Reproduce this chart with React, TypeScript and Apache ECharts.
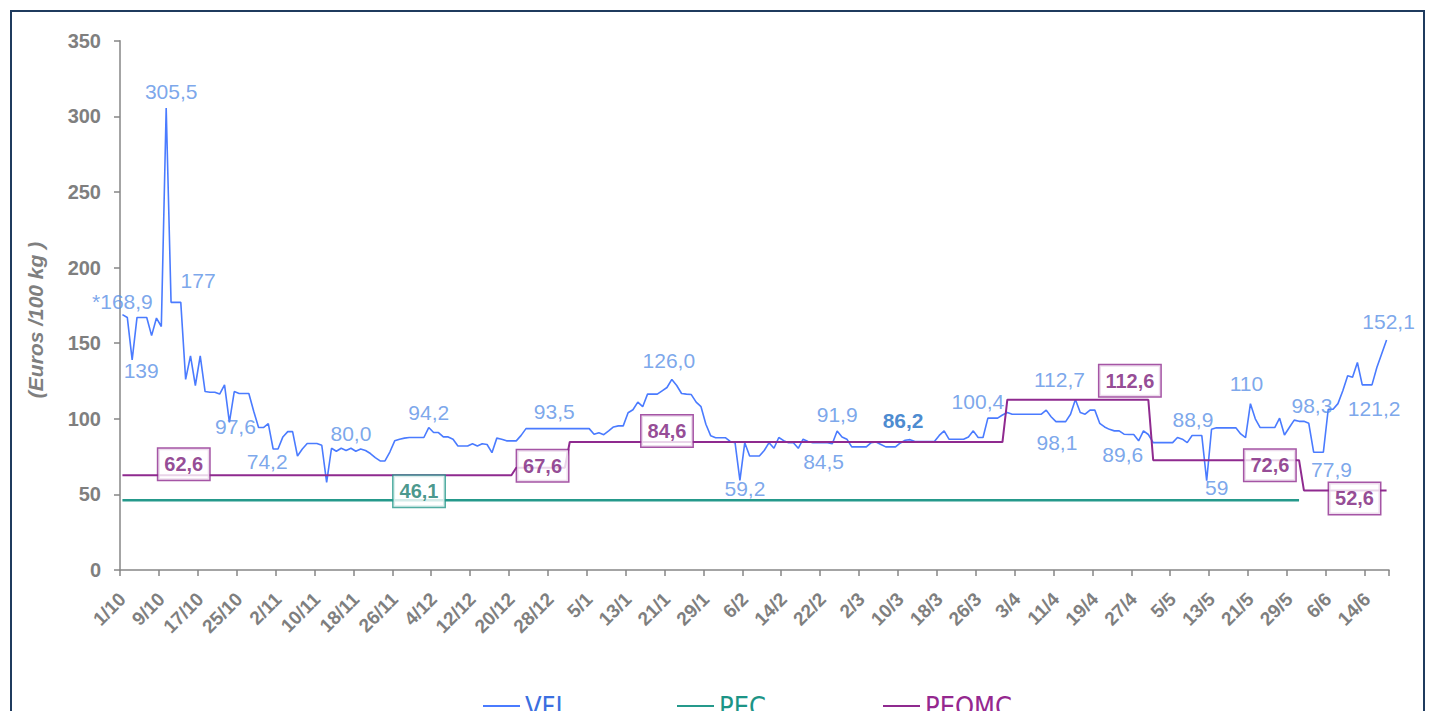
import React, { useEffect, useRef } from "react";
import * as echarts from "echarts";

// ---------- data ----------
const MONTH_NUMBERS = [10, 11, 12, 1, 2, 3, 4, 5, 6];
const MONTH_LENGTHS = [31, 30, 31, 31, 28, 31, 30, 31, 30];
const DAY_COUNT = 261; // 1/10 .. 18/6

const vfi = [
  168.9, 167, 139, 167, 167, 167, 155, 166.6, 161, 305.5,
  177, 177, 177, 126, 141.6, 122, 141.6, 118, 117.5, 117.5,
  116.3, 122.4, 97.6, 118, 116.7, 116.7, 116.7, 105, 94.2, 94.2,
  96.8, 80, 80, 88, 91.5, 91.5, 75.4, 80, 83.6, 83.6,
  83.6, 82.5, 58, 80.5, 78.5, 80.5, 79, 80.5, 78.5, 80,
  79, 77, 74.3, 72.1, 72.1, 78, 85.4, 86.5, 87.2, 87.6,
  87.6, 87.6, 87.6, 94.2, 90.9, 90.9, 88, 88, 86.5, 82,
  82, 82, 83.5, 82, 83.5, 83, 77.6, 87.2, 86.5, 85.4,
  85.4, 85.4, 89, 93.5, 93.5, 93.5, 93.5, 93.5, 93.5, 93.5,
  93.5, 93.5, 93.5, 93.5, 93.5, 93.5, 93.5, 89.8, 90.7, 89.5,
  92, 94.6, 95.3, 95.3, 104, 106, 111, 108, 116.3, 116.3,
  116.3, 118.5, 120.7, 126, 122, 116.7, 116.3, 116, 111, 108,
  96.4, 88.7, 87.5, 87.5, 87.5, 85, 84.2, 59.2, 84.2, 75.4,
  75.4, 75.4, 79, 84.2, 80.5, 87.6, 85.5, 84.2, 84.2, 80.5,
  86.5, 85, 84.2, 84.2, 84.2, 84.2, 83.5, 91.9, 88, 86.5,
  81.4, 81.4, 81.4, 81.4, 84.2, 84.6, 83, 81.4, 81.4, 81.4,
  84, 85.8, 86.2, 85, 85, 85, 85, 85, 89, 92,
  86.5, 86.5, 86.5, 86.5, 88, 92, 87.6, 87.6, 100.4, 100.4,
  100.4, 102.5, 104.1, 103, 103, 103, 103, 103, 103, 103,
  105.7, 101.3, 98.1, 98.1, 98.1, 103, 112.7, 104.1, 103, 105.7,
  105.7, 97, 94.6, 93, 92, 92, 89.8, 89.6, 89.6, 85.4,
  92, 89.6, 84.2, 84.2, 84.2, 84.2, 84.2, 87.6, 86.5, 84.2,
  88.9, 88.9, 88.9, 59, 93.1, 94, 94, 94, 94, 94,
  90, 87.6, 110, 100, 94.2, 94.2, 94.2, 94.2, 100.4, 89.3,
  94.2, 99.1, 98.3, 98.3, 97, 77.9, 77.9, 77.9, 106.3, 106.3,
  110, 118.5, 128.4, 127.5, 137.2, 122.4, 122.4, 122.4, 133.9, 143,
  152.1,
];

// PEOMC: price periods (first day index of each period) and their values
const peomcPeriodStarts = [0, 81, 92, 182, 212, 243];
const peomcPeriodValues = [62.6, 67.6, 84.6, 112.6, 72.6, 52.6];
const peomcLastDay = 260;

// PEC: single value over its period
const pecValue = 46.1;
const pecLastDay = 242;

// annotated VFI points
const vfiLabelDays = [0, 2, 9, 10, 22, 31, 47, 63, 88, 113, 127, 144, 147, 162, 178, 196, 192, 208, 221, 223, 232, 243, 246, 256, 260];
const vfiLabelTexts = ["*168,9", "139", "305,5", "177", "97,6", "74,2", "80,0", "94,2", "93,5", "126,0", "59,2", "84,5", "91,9", "86,2", "100,4", "112,7", "98,1", "89,6", "88,9", "59", "110", "98,3", "77,9", "121,2", "152,1"];

// annotated PEOMC / PEC points
const peomcLabelDays = [12, 86, 112, 207, 236, 253];
const pecLabelDays = [61];

// ---------- label placement (pixels, relative to the point) ----------
const vfiLabelOffsets = [
  [0, -13], [9, 11], [5, -16], [27, -22], [6, 4], [-6, 12], [0, -15], [0, -15], [4, -17], [-3, -19],
  [5, 8], [1, 19], [0, -17], [-7, -19], [-10, -17], [-16, -20], [1, 21], [-11, 20], [-4, -16], [10, 7],
  [-4, -20], [8, -16], [13, 17], [7, 24], [2, -18],
];
const peomcLabelOffsets = [[3, -11], [2, -2], [0, -11], [1, -19], [0, 5], [2, 8]];
const pecLabelOffsets = [[0, -9]];

// ---------- helpers ----------
function buildCategories(): string[] {
  const out: string[] = [];
  for (let m = 0; m < MONTH_NUMBERS.length && out.length < DAY_COUNT; m++) {
    for (let d = 1; d <= MONTH_LENGTHS[m] && out.length < DAY_COUNT; d++) {
      out.push(`${d}/${MONTH_NUMBERS[m]}`);
    }
  }
  return out;
}

function buildPeomc(): (number | null)[] {
  const out: (number | null)[] = [];
  for (let i = 0; i < DAY_COUNT; i++) {
    if (i > peomcLastDay) { out.push(null); continue; }
    let v = peomcPeriodValues[0];
    for (let p = 0; p < peomcPeriodStarts.length; p++) {
      if (i >= peomcPeriodStarts[p]) v = peomcPeriodValues[p];
    }
    out.push(v);
  }
  return out;
}

function buildPec(): (number | null)[] {
  const out: (number | null)[] = [];
  for (let i = 0; i < DAY_COUNT; i++) out.push(i <= pecLastDay ? pecValue : null);
  return out;
}

const fmt = (v: number) => v.toFixed(1).replace(".", ",");

const FONT = '"Liberation Sans", Arial, sans-serif';
const C_VFI = "#4a7bff";
const C_VFI_LABEL = "#5a90e6";
const C_PEC = "#25998b";
const C_PEOMC = "#8f2a8f";
const AXIS_GRAY = "#868686";
const TEXT_GRAY = "#7f7f7f";

export default function App() {
  const ref = useRef<HTMLDivElement>(null);

  useEffect(() => {
    if (!ref.current) return;
    const chart = echarts.init(ref.current, undefined, { renderer: "svg" });
    const categories = buildCategories();
    const peomc = buildPeomc();
    const pec = buildPec();

    const vfiLabelData = vfiLabelDays.map((d, i) => {
      const bold = vfiLabelTexts[i] === "86,2";
      return {
        value: [d, vfi[d]],
        label: {
          show: true,
          position: "inside",
          offset: vfiLabelOffsets[i],
          formatter: vfiLabelTexts[i],
          color: bold ? "#1c6cc4" : C_VFI_LABEL,
          fontWeight: bold ? "bold" : "normal",
        },
      };
    });

    const boxLabel = (color: string, textColor: string) => ({
      show: true,
      position: "inside",
      backgroundColor: "#ffffff",
      borderColor: color,
      borderWidth: 1.5,
      padding: [6, 6, 5, 6],
      fontSize: 20,
      fontWeight: "bold",
      fontFamily: FONT,
      color: textColor,
    });

    const peomcLabelData = peomcLabelDays.map((d, i) => ({
      value: [d, peomc[d] as number],
      label: { ...boxLabel(C_PEOMC, "#7a1c7a"), offset: peomcLabelOffsets[i], formatter: fmt(peomc[d] as number) },
    }));
    const pecLabelData = pecLabelDays.map((d, i) => ({
      value: [d, pec[d] as number],
      label: { ...boxLabel(C_PEC, "#1b7d6f"), offset: pecLabelOffsets[i], formatter: fmt(pec[d] as number) },
    }));

    const legendBase = {
      top: 687,
      icon: "rect",
      itemWidth: 37,
      itemHeight: 2,
      itemGap: 116,
      selectedMode: false,
      textStyle: { fontSize: 27, fontFamily: '"DejaVu Sans Condensed", "Liberation Sans", sans-serif', lineHeight: 28 },
    };

    chart.setOption({
      animation: false,
      backgroundColor: "transparent",
      textStyle: { fontFamily: FONT },
      grid: { left: 120, right: 47, top: 40.7, bottom: 141, containLabel: false },
      legend: [
        { ...legendBase, left: 478, data: [{ name: "VFI", textStyle: { color: "#3b6fe0" } }] },
        { ...legendBase, left: 672, data: [{ name: "PEC", textStyle: { color: "#1c9486" } }] },
        { ...legendBase, left: 878, data: [{ name: "PEOMC", textStyle: { color: "#95288f" } }] },
      ],
      xAxis: {
        type: "category",
        data: categories,
        boundaryGap: true,
        axisLine: { show: true, lineStyle: { color: AXIS_GRAY, width: 1.5 } },
        axisTick: { show: true, interval: 7, length: 6, lineStyle: { color: AXIS_GRAY, width: 1.5 } },
        axisLabel: {
          interval: 7,
          rotate: 45,
          margin: 26,
          color: TEXT_GRAY,
          fontSize: 19,
          fontWeight: "bold",
          fontFamily: FONT,
        },
        splitLine: { show: false },
      },
      yAxis: {
        type: "value",
        min: 0,
        max: 350,
        interval: 50,
        axisLine: { show: true, lineStyle: { color: AXIS_GRAY, width: 1.5 } },
        axisTick: { show: true, length: 6, lineStyle: { color: AXIS_GRAY, width: 1.5 } },
        axisLabel: { margin: 19, color: TEXT_GRAY, fontSize: 20, fontWeight: "bold", fontFamily: FONT },
        splitLine: { show: false },
      },
      graphic: [
        {
          type: "text",
          x: 35,
          y: 320,
          rotation: Math.PI / 2,
          style: {
            text: "(Euros /100 kg )",
            align: "center",
            verticalAlign: "middle",
            fill: TEXT_GRAY,
            font: `italic bold 21px ${FONT}`,
          },
        },
      ],
      series: [
        {
          name: "VFI",
          type: "line",
          data: vfi,
          symbol: "none",
          showSymbol: false,
          color: C_VFI,
          lineStyle: { color: C_VFI, width: 1.6 },
          z: 2,
        },
        {
          name: "PEC",
          type: "line",
          data: pec,
          symbol: "none",
          showSymbol: false,
          color: C_PEC,
          lineStyle: { color: C_PEC, width: 2.4 },
          z: 3,
        },
        {
          name: "PEOMC",
          type: "line",
          data: peomc,
          symbol: "none",
          showSymbol: false,
          color: C_PEOMC,
          lineStyle: { color: C_PEOMC, width: 2 },
          z: 3,
        },
        {
          name: "vfi-labels",
          type: "scatter",
          data: vfiLabelData,
          symbolSize: 1,
          itemStyle: { color: "rgba(0,0,0,0)" },
          silent: true,
          z: 5,
          label: { fontSize: 21, fontFamily: FONT },
        },
        {
          name: "peomc-labels",
          type: "scatter",
          data: peomcLabelData,
          symbolSize: 1,
          itemStyle: { color: "rgba(0,0,0,0)" },
          silent: true,
          z: 6,
        },
        {
          name: "pec-labels",
          type: "scatter",
          data: pecLabelData,
          symbolSize: 1,
          itemStyle: { color: "rgba(0,0,0,0)" },
          silent: true,
          z: 6,
        },
      ],
    });
    return () => chart.dispose();
  }, []);

  return (
    <div style={{ position: "fixed", left: 0, top: 0, width: 1436, height: 711, overflow: "hidden", background: "#ffffff" }}>
      <div
        style={{
          position: "absolute",
          left: 10,
          top: 10,
          width: 1415,
          height: 760,
          border: "2px solid #1f3b5e",
          boxSizing: "border-box",
        }}
      />
      <div ref={ref} style={{ position: "absolute", left: 0, top: 0, width: 1436, height: 711 }} />
    </div>
  );
}
